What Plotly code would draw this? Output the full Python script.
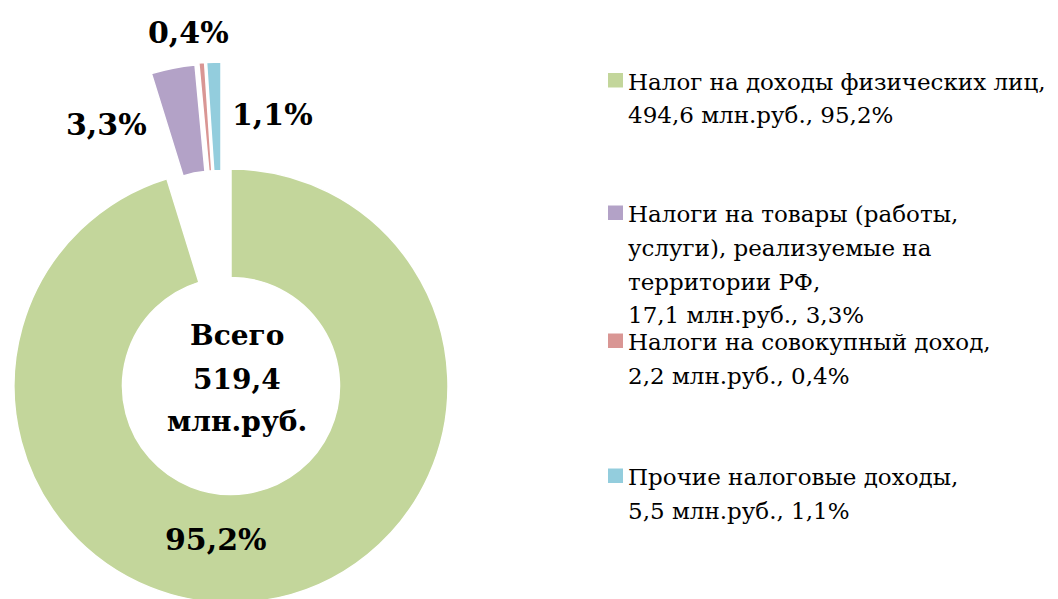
import plotly.graph_objects as go

# --- data -------------------------------------------------------------
categories = [
    ["Налог на доходы физических лиц,"],
    ["Налоги на товары (работы,", "услуги), реализуемые на", "территории РФ,"],
    ["Налоги на совокупный доход,"],
    ["Прочие налоговые доходы,"],
]
values_mln = [494.6, 17.1, 2.2, 5.5]
colors = ["#C3D69B", "#B3A2C7", "#D99694", "#93CDDD"]
unit = "млн.руб."
total_caption = "Всего"

# --- geometry (pixels) -------------------------------------------------
W, H = 1058, 605
FONT = "DejaVu Serif"
CLEAR = "rgba(0,0,0,0)"
ASC_MID = 0.346  # baseline -> middle of the text box, in em


def fx(x):
    return x / W


def fy(y):
    return 1 - y / H


def ru(v, d=1):
    return f"{v:.{d}f}".replace(".", ",")


total = sum(values_mln)
shares = [v / total * 100 for v in values_mln]
plain_names = [" ".join(c) for c in categories]


def ring(cx, cy, r, visible, hole):
    """Donut layer centred at (cx, cy) px; only the slices in `visible` are painted."""
    cols = [c if i in visible else CLEAR for i, c in enumerate(colors)]
    widths = [1.5 if i in visible else 0 for i in range(len(colors))]
    return go.Pie(
        values=values_mln,
        labels=plain_names,
        sort=False,
        direction="clockwise",
        rotation=0,
        hole=hole,
        domain=dict(x=[fx(cx - r), fx(cx + r)], y=[fy(cy + r), fy(cy - r)]),
        marker=dict(colors=cols, line=dict(color="white", width=widths)),
        textinfo="none",
        hoverinfo="skip",
        showlegend=False,
    )


fig = go.Figure()
# main ring (largest item) and the exploded small items
fig.add_trace(ring(231, 386, 217, {0}, 0.5))
fig.add_trace(ring(215, 279, 215, {1}, 0.502))
fig.add_trace(ring(219, 279, 217, {2}, 0.5))
fig.add_trace(ring(221, 279, 217, {3}, 0.5))

annotations = []


def text_at(txt, x, baseline, size, anchor="center", bold=False):
    annotations.append(dict(
        x=fx(x), y=fy(baseline - ASC_MID * size), xref="paper", yref="paper",
        xanchor=anchor, yanchor="middle", showarrow=False,
        text=f"<b>{txt}</b>" if bold else txt,
        font=dict(family=FONT, size=size, color="black"),
    ))


# percentage labels (x centre, baseline)
label_pos = [(216, 550), (106, 135), (188, 43), (272, 125)]
for (x, b), s in zip(label_pos, shares):
    text_at(f"{ru(s)}%", x, b, 30, bold=True)

# total in the hole
for txt, b in [(total_caption, 345), (ru(total), 389), (unit, 431)]:
    text_at(txt, 237, b, 28, bold=True)

# legend
legend_baselines = [89.5, 222, 350, 485]
LINE = 33.8
shapes = []
for name_lines, v, s, col, b0 in zip(categories, values_mln, shares, colors, legend_baselines):
    shapes.append(dict(
        type="rect", xref="paper", yref="paper",
        x0=fx(608), x1=fx(623), y0=fy(b0 - 2), y1=fy(b0 - 16.5),
        fillcolor=col, line=dict(width=0),
    ))
    lines = name_lines + [f"{ru(v)} {unit}, {ru(s)}%"]
    for k, ln in enumerate(lines):
        text_at(ln, 626, b0 + k * LINE, 23, anchor="left")

fig.update_layout(
    width=W, height=H,
    margin=dict(l=0, r=0, t=0, b=0),
    paper_bgcolor="white", plot_bgcolor="white",
    showlegend=False,
    annotations=annotations,
    shapes=shapes,
)

fig.write_html("out.html")
